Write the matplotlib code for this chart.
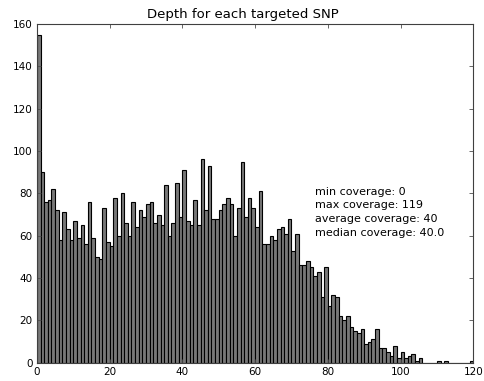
import matplotlib
matplotlib.use("Agg")
import matplotlib.pyplot as plt
import numpy as np

depths = list(range(120))
counts = [155, 90, 76, 77, 82, 72, 58, 71, 63, 58,
          67, 59, 65, 56, 76, 59, 50, 49, 73, 57,
          55, 78, 60, 80, 66, 60, 76, 64, 72, 69,
          75, 76, 66, 70, 65, 84, 60, 66, 85, 69,
          91, 67, 65, 77, 65, 96, 72, 93, 68, 68,
          72, 75, 78, 75, 60, 73, 95, 69, 78, 73,
          64, 81, 56, 56, 60, 58, 63, 64, 61, 68,
          53, 61, 46, 46, 48, 45, 41, 43, 31, 45,
          27, 32, 31, 22, 20, 22, 17, 15, 14, 16,
          9, 10, 11, 16, 7, 7, 5, 3, 8, 2,
          5, 2, 3, 4, 1, 2, 0, 0, 0, 0,
          1, 0, 1, 0, 0, 0, 0, 0, 0, 1]
stats_lines = ["min coverage: 0", "max coverage: 119",
               "average coverage: 40", "median coverage: 40.0"]
title = "Depth for each targeted SNP"
xticks = [0, 20, 40, 60, 80, 100, 120]
yticks = [0, 20, 40, 60, 80, 100, 120, 140, 160]

fig = plt.figure(figsize=(4.84, 3.81), dpi=100, facecolor="white")
ax = fig.add_axes([0.0762, 0.048, 0.9017, 0.889])
ax.bar(depths, counts, width=1.0, align="edge", color="0.47",
       edgecolor="black", linewidth=0.8)
ax.set_xlim(0, 120)
ax.set_ylim(0, 160)
ax.set_xticks(xticks)
ax.set_yticks(yticks)
ax.tick_params(direction="in", top=True, right=True, labelsize=7.5,
               length=3, width=0.6, color="0.3", pad=3)
for s in ax.spines.values():
    s.set_linewidth(0.8)
    s.set_color("0.25")
ax.set_title(title, fontsize=9.5, pad=4, x=0.473)
ax.text(76.6, 59, "\n".join(stats_lines), fontsize=8, ha="left", va="bottom",
        linespacing=1.47)
fig.savefig("out.png", dpi=100, facecolor="white")
